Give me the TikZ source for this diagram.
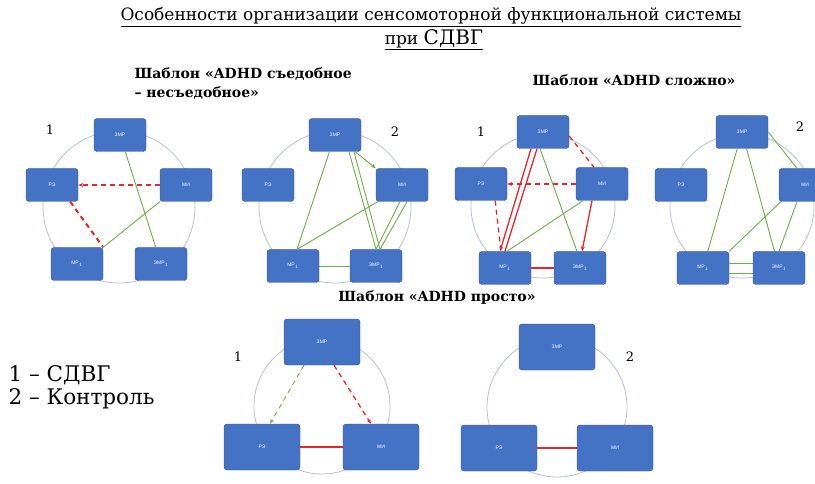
\documentclass[tikz,border=0pt]{standalone}
\usepackage{fontspec}
\setmainfont{DejaVu Serif}
\setsansfont{Liberation Sans}
\usetikzlibrary{arrows.meta}

\definecolor{boxblue}{HTML}{4472C4}
\definecolor{boxedge}{HTML}{2F528F}
\definecolor{ringgray}{HTML}{B7BFD3}
\definecolor{linkgreen}{HTML}{70AD47}
\definecolor{linkred}{HTML}{E8262A}

\tikzset{
  unit/.style={draw=boxedge, fill=boxblue, rounded corners=3pt, minimum width=52pt,
    minimum height=33pt, text=white, font=\sffamily\fontsize{5}{6}\selectfont},
  bigunit/.style={unit, minimum width=76pt, minimum height=46pt},
  ring/.style={draw=ringgray, line width=0.8pt},
  greenlink/.style={linkgreen, line width=0.9pt},
  redlink/.style={linkred, line width=1.3pt},
  weak/.style={dash pattern=on 5pt off 4pt},
  headto/.style={-{Stealth[length=5pt,width=4pt]}},
  heading/.style={font=\fontsize{17}{19}\selectfont},
  caption/.style={font=\bfseries\fontsize{14}{19}\selectfont, align=left},
  numlabel/.style={font=\fontsize{13}{15}\selectfont}
}

\begin{document}
\begin{tikzpicture}[x=1pt, y=-1pt]
    \useasboundingbox (0,0) rectangle (815,484);

    % Title
    \node[heading] (title) at (431,17)
      {\underline{Особенности организации сенсомоторной функциональной системы}};
    \node[heading] (title2) at (434,40)
      {\underline{при \fontsize{20}{22}\selectfont СДВГ}};

    % Pattern captions
    \node[caption, anchor=north west] (capone) at (131,64)
      {Шаблон «ADHD съедобное\\ – несъедобное»};
    \node[caption] (captwo) at (634,80) {Шаблон «ADHD сложно»};
    \node[caption] (capthree) at (437,298) {Шаблон «ADHD просто»};

    % Legend
    \node[font=\fontsize{21.5}{23}\selectfont, anchor=west, align=left] (legend) at (5,387)
      {1 – СДВГ\\ 2 – Контроль};

    % Rings behind the boxes
    \draw[ring] (119,207) circle (76);
    \draw[ring] (335,207) circle (76);
    \draw[ring] (543,206) circle (72);
    \draw[ring] (742,206) circle (72);
    \draw[ring] (322,406) circle (68);
    \draw[ring] (557,407) circle (70);

    % Panel 1 (ADHD)
    \node[numlabel] (numa) at (50,130) {1};
    \node[unit] (atop) at (120,135) {ЗМР};
    \node[unit] (aleft) at (52,185) {РЭ};
    \node[unit] (aright) at (186,185) {МИ};
    \node[unit] (abl) at (77,264) {МР$_1$};
    \node[unit] (abr) at (161,264) {ЭМР$_1$};
    \draw[redlink, weak, headto] (aright) -- (aleft);
    \draw[redlink, weak, line width=2pt] (aleft.south east) ++(-8pt,0) -- (abl.north east);
    \draw[greenlink] (atop) -- (abr);
    \draw[greenlink] (aright.south west) -- (abl.north east);

    % Panel 2 (control)
    \node[numlabel] (numb) at (395,132) {2};
    \node[unit] (btop) at (335,135) {ЗМР};
    \node[unit] (bleft) at (268,185) {РЭ};
    \node[unit] (bright) at (402,185) {МИ};
    \node[unit] (bbl) at (293,266) {МР$_1$};
    \node[unit] (bbr) at (376,266) {ЭМР$_1$};
    \draw[greenlink] (btop) -- ([xshift=4pt]bbl.north);
    \draw[greenlink] ([xshift=14pt]btop.south) -- (bbr.north);
    \draw[greenlink] ([xshift=19pt]btop.south) -- ([xshift=4pt]bbr.north);
    \draw[greenlink, headto] ([xshift=-6pt]btop.south east) -- (bright.north west);
    \draw[greenlink] ([xshift=2pt]bright.south west) -- ([xshift=4pt]bbl.north);
    \draw[greenlink] ([xshift=-2pt]bright.south) -- (bbr.north);
    \draw[greenlink] ([xshift=5pt]bright.south) -- ([xshift=4pt]bbr.north);
    \draw[greenlink] (bbl) -- (bbr);

    % Panel 3 (ADHD)
    \node[numlabel] (numc) at (481,132) {1};
    \node[unit] (ctop) at (543,132) {ЗМР};
    \node[unit] (cleft) at (481,184) {РЭ};
    \node[unit] (cright) at (602,184) {МИ};
    \node[unit] (cbl) at (505,268) {МР$_1$};
    \node[unit] (cbr) at (580,268) {ЭМР$_1$};
    \draw[redlink, weak, headto] (cright) -- (cleft);
    \draw[redlink, weak] ([xshift=-12pt]cleft.south east) -- ([xshift=-4pt]cbl.north);
    \draw[redlink, headto] ([xshift=-12pt]ctop.south) -- ([xshift=-5pt]cbl.north);
    \draw[redlink] ([xshift=-6pt]ctop.south) -- (cbl.north);
    \draw[redlink, weak] ([yshift=-4pt]ctop.east) -- ([xshift=-8pt]cright.north);
    \draw[redlink, headto] ([xshift=-10pt]cright.south) -- ([xshift=2pt]cbr.north);
    \draw[greenlink] ([xshift=-3pt]ctop.south) -- ([xshift=-3pt]cbr.north);
    \draw[greenlink] ([xshift=-19pt]cright.south) -- ([xshift=2pt]cbl.north);
    \draw[redlink, line width=2.4pt] (cbl) -- (cbr);

    % Panel 4 (control)
    \node[numlabel] (numd) at (800,127) {2};
    \node[unit] (dtop) at (742,132) {ЗМР};
    \node[unit] (dleft) at (681,185) {РЭ};
    \node[unit] (dright) at (805,185) {МИ};
    \node[unit] (dbl) at (703,268) {МР$_1$};
    \node[unit] (dbr) at (779,268) {ЭМР$_1$};
    \draw[greenlink] (dtop) -- (dbl);
    \draw[greenlink] (dtop) -- (dbr);
    \draw[greenlink] (dtop.east) -- ([xshift=-8pt]dright.north);
    \draw[greenlink] ([xshift=2pt]dright.south west) -- (dbl.north east);
    \draw[greenlink] ([xshift=-8pt]dright.south) -- (dbr.north);
    \draw[greenlink] (dbl.east) ++(0,-5pt) -- ([yshift=-5pt]dbr.west);
    \draw[greenlink] (dbl.east) ++(0,5pt) -- ([yshift=5pt]dbr.west);

    % Panel 5 (ADHD, simple)
    \node[numlabel] (nume) at (238,357) {1};
    \node[bigunit] (etop) at (322,342) {ЗМР};
    \node[bigunit] (eleft) at (262,447) {РЭ};
    \node[bigunit] (eright) at (381,447) {МИ};
    \draw[greenlink, weak, headto] (etop.south) ++(-18pt,0) -- ([xshift=8pt]eleft.north);
    \draw[redlink, weak, headto] (etop.south) ++(12pt,0) -- ([xshift=-10pt]eright.north);
    \draw[redlink, line width=2pt] (eleft) -- (eright);

    % Panel 6 (control, simple)
    \node[numlabel] (numf) at (630,357) {2};
    \node[bigunit] (ftop) at (557,347) {ЗМР};
    \node[bigunit] (fleft) at (499,448) {РЭ};
    \node[bigunit] (fright) at (615,448) {МИ};
    \draw[darkgray!70!red, line width=2.6pt] (fleft) -- (fright);
    \draw[linkred, line width=1.4pt] (fleft) -- (fright);
\end{tikzpicture}
\end{document}
